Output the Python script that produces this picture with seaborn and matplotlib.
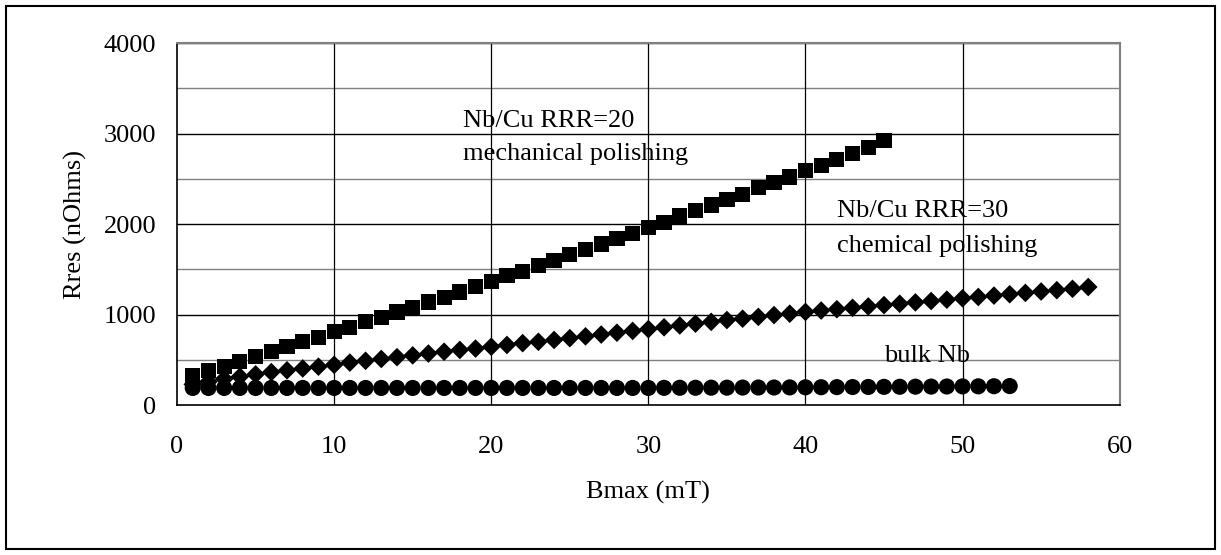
import numpy as np
import pandas as pd
import matplotlib
matplotlib.use("Agg")
import matplotlib.pyplot as plt
import seaborn as sns
from matplotlib.patches import Rectangle

sns.set_style("white")
plt.rcParams['font.family'] = ['Liberation Serif', 'DejaVu Serif']
plt.rcParams['text.color'] = 'black'
plt.rcParams['axes.labelcolor'] = 'black'
plt.rcParams['xtick.color'] = 'black'
plt.rcParams['ytick.color'] = 'black'

# Nb/Cu RRR=20, mechanical polishing (squares)
bmax_mech = list(range(1, 46))
rres_mech = [330, 380, 430, 480, 540, 590, 650, 700, 750, 810,
             860, 920, 970, 1030, 1080, 1140, 1190, 1250, 1310, 1370,
             1430, 1480, 1540, 1600, 1660, 1720, 1780, 1840, 1900, 1960,
             2020, 2090, 2150, 2210, 2270, 2330, 2400, 2460, 2520, 2590,
             2650, 2710, 2780, 2850, 2920]

# Nb/Cu RRR=30, chemical polishing (diamonds)
bmax_chem = list(range(1, 59))
rres_chem = [230, 260, 290, 315, 340, 365, 385, 405, 425, 445,
             470, 490, 510, 530, 550, 570, 590, 610, 625, 645,
             665, 685, 700, 720, 740, 760, 780, 800, 820, 840,
             860, 880, 900, 920, 940, 955, 975, 995, 1010, 1030,
             1045, 1060, 1075, 1090, 1105, 1120, 1135, 1150, 1165, 1180,
             1195, 1210, 1225, 1240, 1255, 1270, 1285, 1305]

# bulk Nb (circles)
bmax_bulk = list(range(1, 54))
rres_bulk = [190] * 30 + [191, 192, 192, 193, 193, 194, 195, 195, 196, 197,
                          198, 199, 200, 201, 202, 203, 204, 205, 206, 207,
                          208, 209, 211]

fig = plt.figure(figsize=(12.21, 5.55), dpi=100)
ax = fig.add_axes([0.145, 0.270, 0.772, 0.6525])

# outer frame
fig.patches.append(Rectangle((0.005, 0.011), 0.99, 0.978, transform=fig.transFigure,
                             fill=False, edgecolor='black', linewidth=1.5))

# grid lines
for yv in np.arange(500, 4001, 500):
    c = 'black' if yv % 1000 == 0 else '#808080'
    ax.axhline(yv, color=c, linewidth=1.0, zorder=0)
for xv in [10, 20, 30, 40, 50]:
    ax.axvline(xv, color='black', linewidth=0.9, zorder=0)

sns.scatterplot(x=bmax_bulk, y=rres_bulk, marker='o', s=135, color='black',
                edgecolor='none', ax=ax, zorder=3)
sns.scatterplot(x=bmax_chem, y=rres_chem, marker='D', s=90, color='black',
                edgecolor='none', ax=ax, zorder=3)
sns.scatterplot(x=bmax_mech, y=rres_mech, marker='s', s=120, color='black',
                edgecolor='none', ax=ax, zorder=3)

ax.set_xlim(0, 60)
ax.set_ylim(0, 4000)
ax.set_xticks(range(0, 61, 10))
ax.set_xticks(range(0, 61, 2), minor=True)
ax.set_yticks(range(0, 4001, 1000))
ax.set_yticks(range(0, 4001, 500), minor=True)
ax.tick_params(axis='both', which='both', direction='out', length=6, width=1,
               color='black', labelsize=19)
ax.tick_params(axis='x', which='major', pad=16)
ax.tick_params(axis='y', which='major', pad=9)

for side in ['left', 'bottom']:
    ax.spines[side].set_color('black')
    ax.spines[side].set_linewidth(1.2)
for side in ['top', 'right']:
    ax.spines[side].set_color('#808080')
    ax.spines[side].set_linewidth(1.5)

ax.set_xlabel('Bmax (mT)', fontsize=19, labelpad=17)
ax.set_ylabel('Rres (nOhms)', fontsize=19, labelpad=12)

ax.text(18.2, 3072, 'Nb/Cu RRR=20', fontsize=19, va='baseline')
ax.text(18.2, 2707, 'mechanical polishing', fontsize=19, va='baseline')
ax.text(42.0, 2077, 'Nb/Cu RRR=30', fontsize=19, va='baseline')
ax.text(42.0, 1690, 'chemical polishing', fontsize=19, va='baseline')
ax.text(45.0, 475, 'bulk Nb', fontsize=19, va='baseline')

fig.savefig('out.png', dpi=100)
